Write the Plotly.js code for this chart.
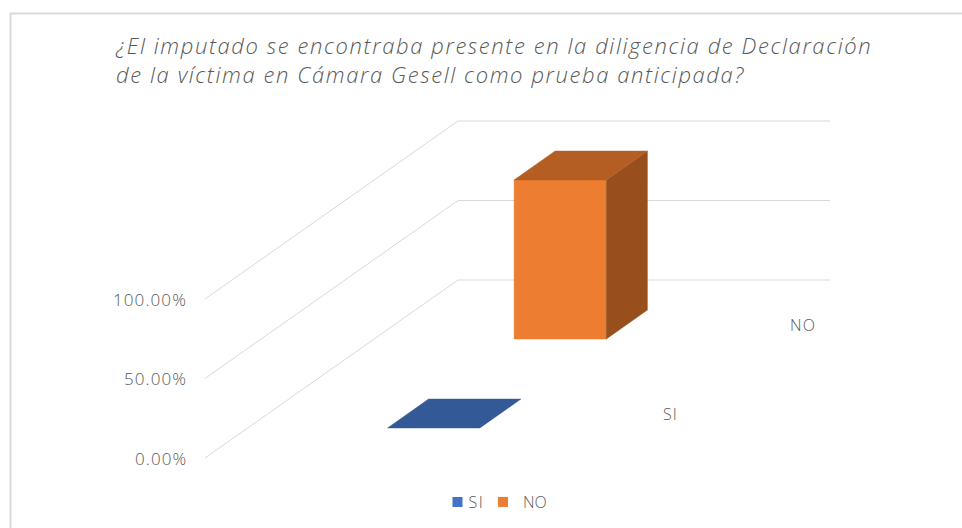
<!DOCTYPE html>
<html><head><meta charset="utf-8">
<script src="https://cdn.plot.ly/plotly-3.0.1.min.js"></script>
<style>
html,body{margin:0;padding:0;background:#fff}
.gtitle{letter-spacing:1.6px}
.annotation-text{letter-spacing:1.1px}
.legendtext{letter-spacing:1.5px;transform:translateX(-9px)}
</style>
</head><body><div id="chart" style="width:962px;height:528px"></div>
<script>
// ---- data ----
const seriesNames = ['SI', 'NO'];
const seriesValues = [0.0, 1.0];
const seriesColors = ['#4472C4', '#ED7D31'];
const topColors = ['#335A97', '#B45E23'];
const sideColors = ['#2B4E86', '#97501D'];
const tickValues = [0, 0.5, 1.0];
const tickLabels = ['0.00%', '50.00%', '100.00%'];
const titleText = '¿El imputado se encontraba presente en la diligencia de Declaración<br>de la víctima en Cámara Gesell como prueba anticipada?';

// ---- oblique 3D projection into plot space ----
const G = {x0: 205, y0: 458, w: 372, h: 159, dx: 253, dy: 178,
           c0: 0.376, c1: 0.624, rowDepth: 0.5, b0: 0.338, b1: 0.662};
function P(c, v, t) { return [G.x0 + c * G.w + t * G.dx, G.y0 - v * G.h - t * G.dy]; }
function poly(pts, color, name) {
  const xs = pts.map(p => p[0]), ys = pts.map(p => p[1]);
  xs.push(xs[0]); ys.push(ys[0]);
  return {type: 'scatter', mode: 'lines', x: xs, y: ys, fill: 'toself',
          fillcolor: color, line: {color: color, width: 0.5},
          hoverinfo: 'skip', showlegend: false, name: name};
}

const traces = [];
// gridlines
tickValues.forEach(v => {
  const a = P(0, v, 0), b = P(0, v, 1), c = P(1, v, 1);
  traces.push({type: 'scatter', mode: 'lines', x: [a[0], b[0], c[0]], y: [a[1], b[1], c[1]],
               line: {color: '#D9D9D9', width: 1}, hoverinfo: 'skip', showlegend: false});
});
// bars (back to front)
for (let i = seriesValues.length - 1; i >= 0; i--) {
  const v = seriesValues[i];
  const t0 = (i + G.b0) * G.rowDepth, t1 = (i + G.b1) * G.rowDepth;
  if (v > 0) {
    traces.push(poly([P(G.c0, 0, t0), P(G.c1, 0, t0), P(G.c1, v, t0), P(G.c0, v, t0)], seriesColors[i], seriesNames[i]));
    traces.push(poly([P(G.c1, 0, t0), P(G.c1, 0, t1), P(G.c1, v, t1), P(G.c1, v, t0)], sideColors[i], seriesNames[i]));
  }
  traces.push(poly([P(G.c0, v, t0), P(G.c1, v, t0), P(G.c1, v, t1), P(G.c0, v, t1)], topColors[i], seriesNames[i]));
}
// legend entries (one legend per series so each can be placed)
const legendIds = ['legend', 'legend2'];
seriesNames.forEach((n, i) => {
  traces.push({type: 'scatter', mode: 'markers', x: [null], y: [null], name: n, legend: legendIds[i],
               marker: {symbol: 'square', size: 10, color: seriesColors[i]}, showlegend: true});
});

const annotations = [];
tickValues.forEach((v, k) => {
  const p = P(0, v, 0);
  annotations.push({x: p[0], y: p[1], xref: 'x', yref: 'y', text: tickLabels[k], showarrow: false,
                    xanchor: 'right', yanchor: 'middle', xshift: -16,
                    font: {family: 'Open Sans', size: 17, weight: 300, color: '#595959'}});
});
seriesNames.forEach((n, i) => {
  const p = P(1, 0, (i + 0.5) * G.rowDepth);
  annotations.push({x: p[0], y: p[1], xref: 'x', yref: 'y', text: n, showarrow: false,
                    xanchor: 'left', yanchor: 'middle', xshift: 21,
                    font: {family: 'Open Sans', size: 16, weight: 300, color: '#595959'}});
});

const legFont = {family: 'Open Sans', size: 16, weight: 300, color: '#595959'};
const layout = {
  width: 962, height: 528,
  margin: {l: 0, r: 0, t: 0, b: 0},
  paper_bgcolor: '#FFFFFF', plot_bgcolor: 'rgba(0,0,0,0)',
  xaxis: {range: [0, 962], visible: false, fixedrange: true},
  yaxis: {range: [528, 0], visible: false, fixedrange: true},
  title: {text: titleText, x: 116 / 962, xanchor: 'left', xref: 'container',
          y: 1 - 54 / 528, yanchor: 'top', yref: 'container',
          font: {family: 'Open Sans', size: 22, style: 'italic', weight: 300, color: '#595959'}},
  legend: {orientation: 'h', x: 437.5 / 962, xanchor: 'left', y: 1 - 502 / 528, yanchor: 'middle',
           font: legFont, itemwidth: 30, bgcolor: 'rgba(0,0,0,0)'},
  legend2: {orientation: 'h', x: 483 / 962, xanchor: 'left', y: 1 - 502 / 528, yanchor: 'middle',
           font: legFont, itemwidth: 30, bgcolor: 'rgba(0,0,0,0)'},
  annotations: annotations,
  shapes: [
    {type: 'line', xref: 'x', yref: 'y', x0: 10.5, x1: 10.5, y0: 13, y1: 528, line: {color: '#D9D9D9', width: 2}},
    {type: 'line', xref: 'x', yref: 'y', x0: 10, x1: 962, y0: 13.5, y1: 13.5, line: {color: '#D9D9D9', width: 2}}
  ],
  showlegend: true
};
Plotly.newPlot('chart', traces, layout, {displayModeBar: false, staticPlot: true});
</script></body></html>
